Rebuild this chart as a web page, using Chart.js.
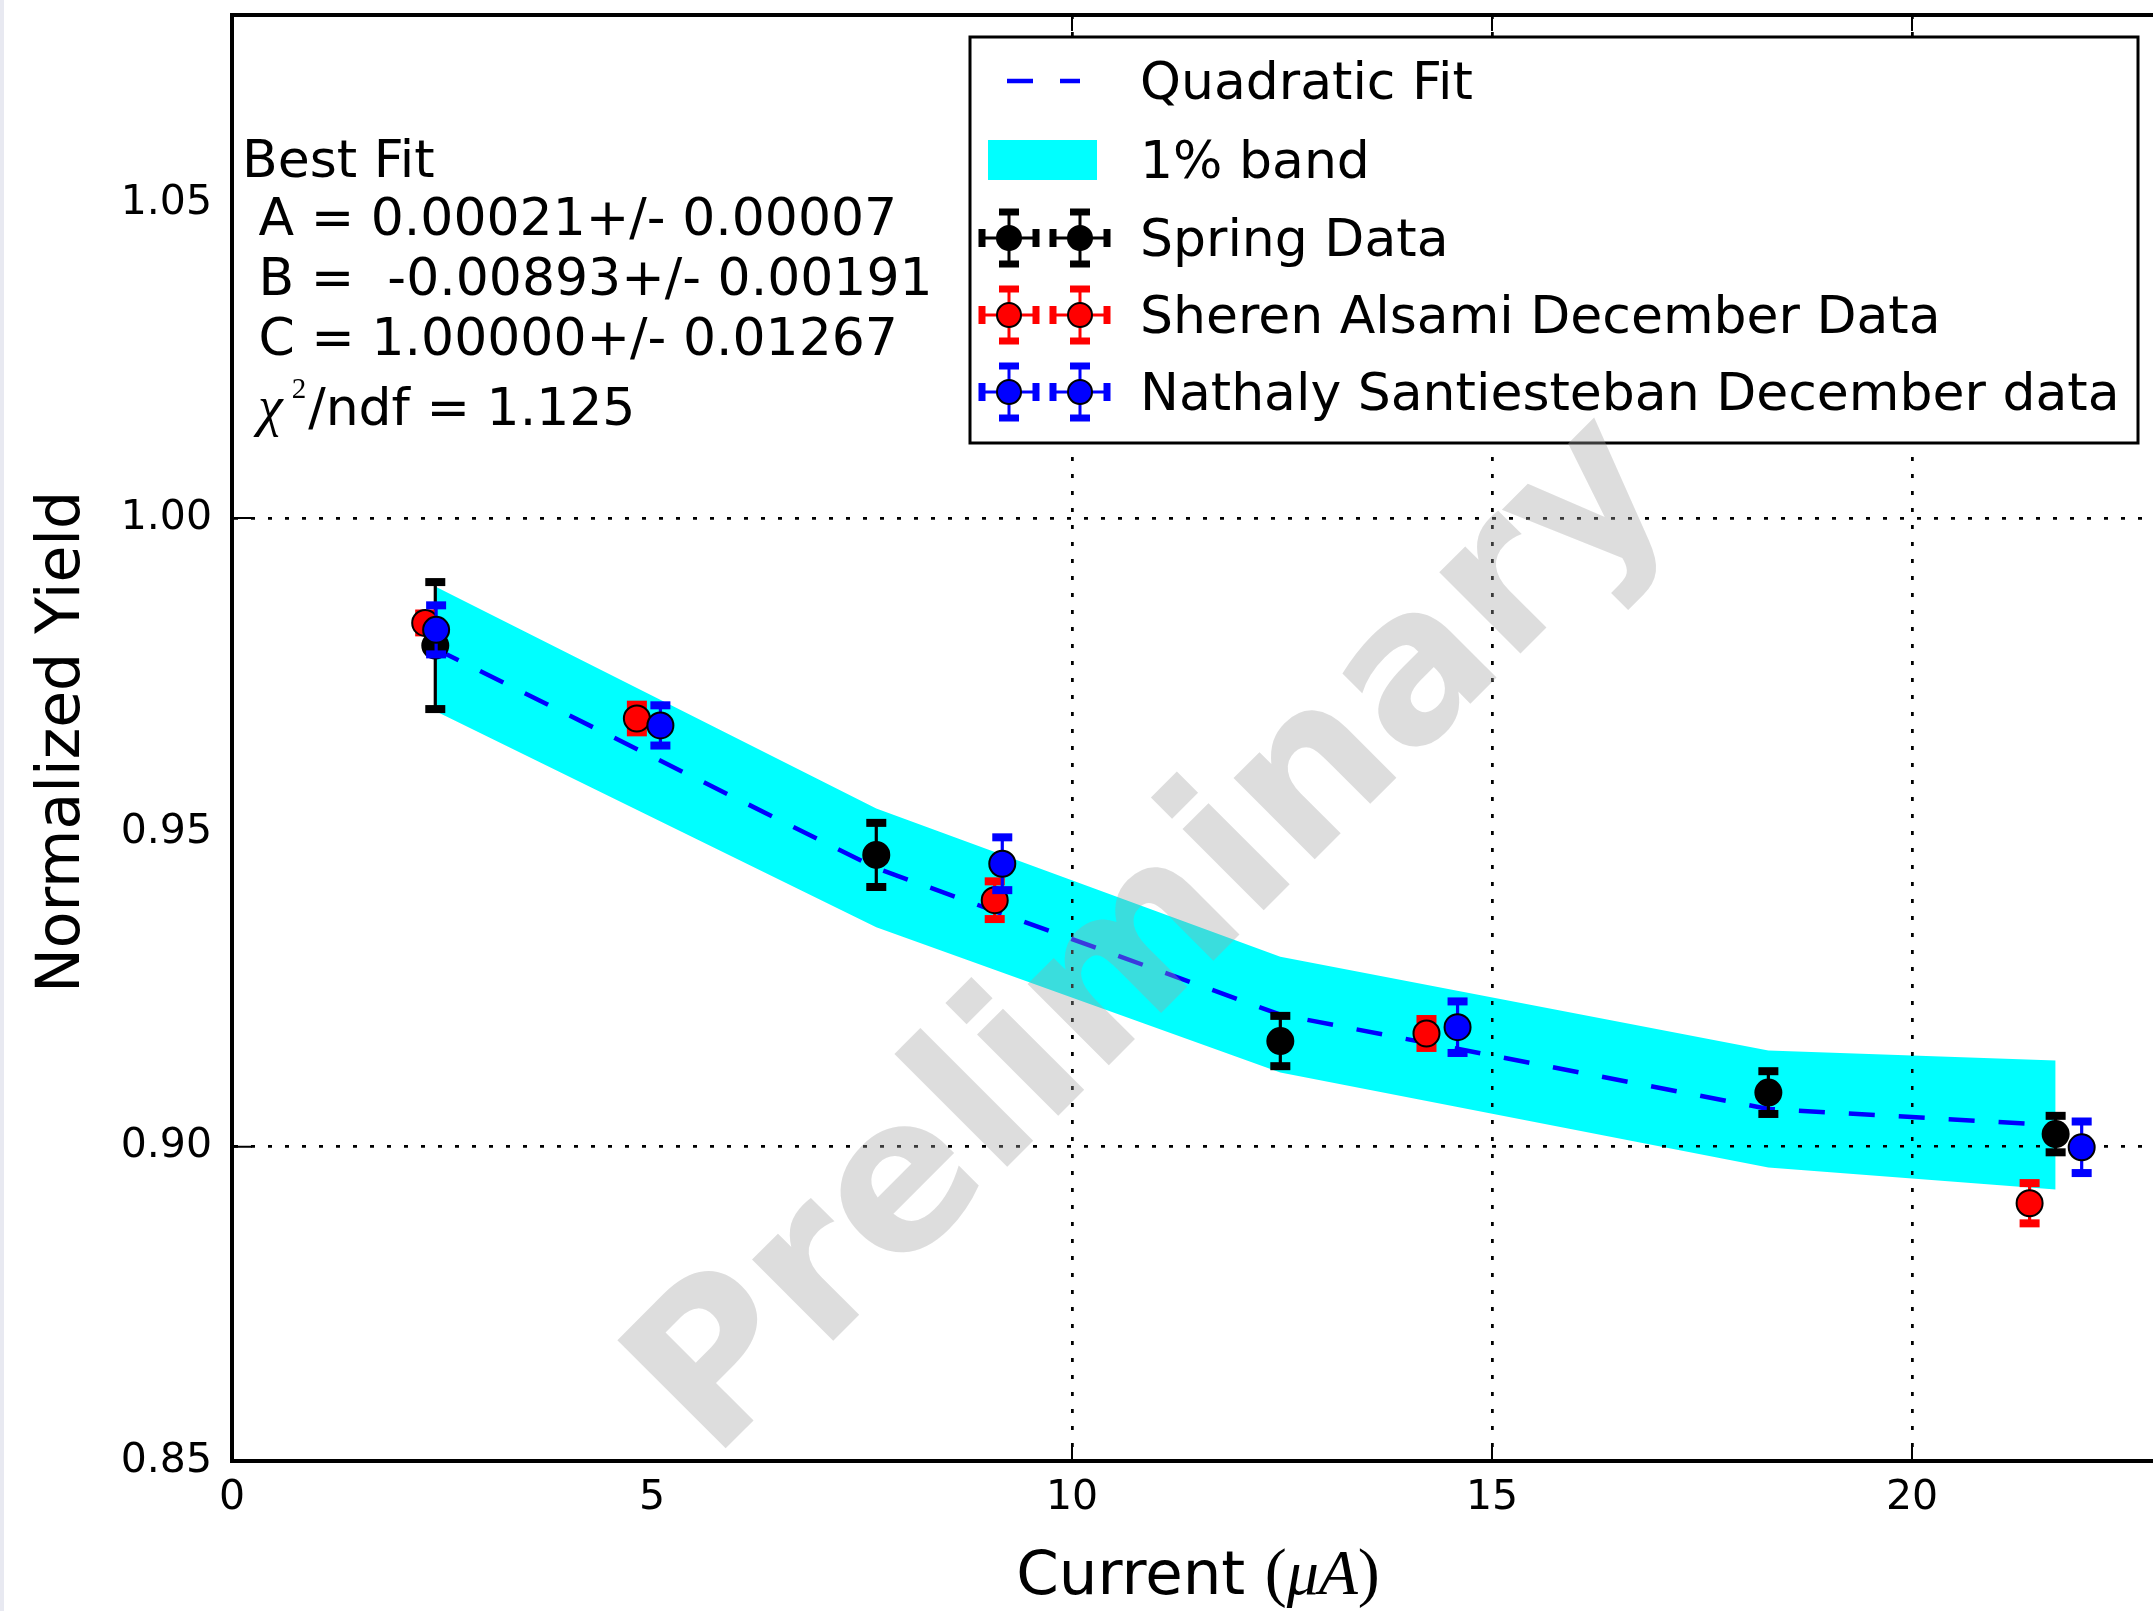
<!DOCTYPE html>
<html>
<head>
<meta charset="utf-8">
<script src="https://cdn.jsdelivr.net/npm/chart.js@4.4.1/dist/chart.umd.min.js"></script>
<style>
html, body { margin: 0; padding: 0; background: #fff; overflow: hidden; width: 2153px; height: 1611px; }
#wrap { position: relative; width: 2153px; height: 1611px; overflow: hidden; }
#edge { position: absolute; left: 0; top: 0; width: 4px; height: 1611px; background: #e8e9f1; }
canvas { position: absolute; left: 0; top: 0; }
</style>
</head>
<body>
<div id="wrap"><canvas id="c" width="2200" height="1611" style="width:2200px;height:1611px"></canvas><div id="edge"></div></div>
<script>
// values
var springX = [2.42, 7.67, 12.48, 18.29, 21.71];
var springY = [0.9797, 0.9464, 0.9168, 0.9086, 0.9020];
var springErr = [0.0101, 0.0051, 0.0040, 0.0034, 0.0029];

var sherenX = [2.30, 4.82, 9.08, 14.22, 21.40];
var sherenY = [0.9833, 0.9681, 0.9392, 0.9180, 0.8910];
var sherenErr = [0.0015, 0.0022, 0.0030, 0.0023, 0.0032];

var nathalyX = [2.43, 5.10, 9.17, 14.59, 22.02];
var nathalyY = [0.9822, 0.9670, 0.9450, 0.9190, 0.8999];
var nathalyErr = [0.0039, 0.0032, 0.0042, 0.0041, 0.0041];

// quadratic fit and 1% band, at the spring currents
var fitX = [2.42, 7.67, 12.48, 18.29, 21.71];
var fitY = [0.9792, 0.9443, 0.9210, 0.9060, 0.9034];
var bandHigh = [0.9891, 0.9538, 0.9302, 0.9153, 0.9137];
var bandLow = [0.9693, 0.9349, 0.9118, 0.8967, 0.8932];

var xTicks = [0, 5, 10, 15, 20];
var yTicks = [0.85, 0.90, 0.95, 1.00, 1.05];
var xGrid = [10, 15, 20];
var yGrid = [0.90, 1.00];

var legendLabels = ['Quadratic Fit', '1% band', 'Spring Data', 'Sheren Alsami December Data', 'Nathaly Santiesteban December data'];
var fitText = [' A = 0.00021+/- 0.00007', ' B =  -0.00893+/- 0.00191', ' C = 1.00000+/- 0.01267'];

var FONT = '"DejaVu Sans", "Noto Sans", sans-serif';

function pts(xs, ys) {
    return xs.map(function (x, i) { return {x: x, y: ys[i]}; });
}

function onGrid(list, v) {
    return list.some(function (g) { return Math.abs(g - v) < 1e-6; });
}

function errMarker(ctx, cx, cy, color) {
    ctx.strokeStyle = color;
    ctx.fillStyle = color;
    ctx.lineWidth = 3;
    ctx.beginPath();
    ctx.moveTo(cx, cy - 26); ctx.lineTo(cx, cy + 26);
    ctx.moveTo(cx - 27, cy); ctx.lineTo(cx + 27, cy);
    ctx.stroke();
    ctx.fillRect(cx - 10, cy - 29.5, 20, 7);
    ctx.fillRect(cx - 10, cy + 22.5, 20, 7);
    ctx.fillRect(cx - 30.5, cy - 9, 7, 18);
    ctx.fillRect(cx + 23.5, cy - 9, 7, 18);
    ctx.beginPath();
    ctx.arc(cx, cy, 12, 0, 2 * Math.PI);
    ctx.fill();
    ctx.lineWidth = 2;
    ctx.strokeStyle = '#000';
    ctx.stroke();
}

var decor = {
    id: 'decor',
    beforeDatasetDraw: function (chart, args) {
        var ds = chart.data.datasets[args.index];
        if (!ds.yErr) return;
        var ctx = chart.ctx, xs = chart.scales.x, ys = chart.scales.y;
        ctx.save();
        ctx.strokeStyle = ds.pointBackgroundColor;
        ctx.fillStyle = ds.pointBackgroundColor;
        ctx.lineWidth = 3.2;
        ds.data.forEach(function (p, i) {
            var px = xs.getPixelForValue(p.x);
            var top = ys.getPixelForValue(p.y + ds.yErr[i]);
            var bot = ys.getPixelForValue(p.y - ds.yErr[i]);
            ctx.beginPath();
            ctx.moveTo(px, top); ctx.lineTo(px, bot);
            ctx.stroke();
            ctx.fillRect(px - 10, top - 4, 20, 8);
            ctx.fillRect(px - 10, bot - 4, 20, 8);
        });
        ctx.restore();
    },
    afterDatasetDraw: function (chart, args) {
        // grid goes above the band, below the fit and data
        if (args.index === 1) {
            chart.scales.x.drawGrid(chart.chartArea);
            chart.scales.y.drawGrid(chart.chartArea);
        }
    },
    afterDraw: function (chart) {
        var ctx = chart.ctx, a = chart.chartArea;
        var xs = chart.scales.x, ys = chart.scales.y;
        ctx.save();

        // top frame and inward tick marks
        ctx.strokeStyle = '#000';
        ctx.lineWidth = 4;
        ctx.beginPath();
        ctx.moveTo(a.left - 2, a.top); ctx.lineTo(a.right, a.top);
        ctx.stroke();
        ctx.lineWidth = 2;
        ctx.beginPath();
        xGrid.forEach(function (v) {
            var px = xs.getPixelForValue(v);
            ctx.moveTo(px, a.bottom); ctx.lineTo(px, a.bottom - 16);
            ctx.moveTo(px, a.top); ctx.lineTo(px, a.top + 16);
        });
        yGrid.forEach(function (v) {
            var py = ys.getPixelForValue(v);
            ctx.moveTo(a.left, py); ctx.lineTo(a.left + 20, py);
        });
        ctx.stroke();

        // axis titles
        ctx.fillStyle = '#000';
        ctx.textBaseline = 'alphabetic';
        ctx.save();
        ctx.translate(79, (a.top + a.bottom) / 2 + 4);
        ctx.rotate(-Math.PI / 2);
        ctx.textAlign = 'center';
        ctx.font = '60px ' + FONT;
        ctx.fillText('Normalized Yield', 0, 0);
        ctx.restore();

        var parts = [
            ['Current ', '61px ' + FONT],
            ['(', '66px "Liberation Serif"'],
            ['\u03bcA', 'italic 64px "Liberation Serif"'],
            [')', '66px "Liberation Serif"']
        ];
        var total = 0;
        parts.forEach(function (p) { ctx.font = p[1]; p.push(ctx.measureText(p[0]).width); total += p[2]; });
        var tx = (a.left + a.right) / 2 - total / 2;
        ctx.textAlign = 'left';
        parts.forEach(function (p) { ctx.font = p[1]; ctx.fillText(p[0], tx, 1594); tx += p[2]; });

        // best fit text
        ctx.font = '52px ' + FONT;
        ctx.fillText('Best Fit', 242, 177);
        fitText.forEach(function (t, i) { ctx.fillText(t, 242, 235 + i * 60); });
        var cx = 258;
        ctx.font = 'italic 56px "Liberation Serif"';
        ctx.fillText('\u03c7', cx, 425);
        cx += ctx.measureText('\u03c7').width + 9;
        ctx.font = '29px "Liberation Serif"';
        ctx.fillText('2', cx, 398);
        cx += ctx.measureText('2').width + 2;
        ctx.font = '52px ' + FONT;
        ctx.fillText('/ndf = 1.125', cx, 425);

        // legend
        var lx = 970, ly = 37, lw = 1168, lh = 406;
        ctx.fillStyle = '#fff';
        ctx.fillRect(lx, ly, lw, lh);
        ctx.strokeStyle = '#000';
        ctx.lineWidth = 3;
        ctx.strokeRect(lx, ly, lw, lh);
        var rows = [81, 160, 238, 315, 392];
        ctx.strokeStyle = '#0000ff';
        ctx.lineWidth = 4.5;
        ctx.beginPath();
        ctx.moveTo(1007, rows[0]); ctx.lineTo(1033, rows[0]);
        ctx.moveTo(1060, rows[0]); ctx.lineTo(1080, rows[0]);
        ctx.stroke();
        ctx.fillStyle = '#00ffff';
        ctx.fillRect(988, 140, 109, 40);
        var cols = ['#000000', '#ff0000', '#0000ff'];
        for (var k = 0; k < 3; k++) {
            errMarker(ctx, 1009, rows[k + 2], cols[k]);
            errMarker(ctx, 1080, rows[k + 2], cols[k]);
        }
        ctx.fillStyle = '#000';
        ctx.font = '52px ' + FONT;
        legendLabels.forEach(function (t, i) { ctx.fillText(t, 1140, rows[i] + 18); });

        // watermark
        ctx.save();
        ctx.translate(712, 1462);
        ctx.rotate(-Math.PI / 4);
        ctx.font = 'bold 210px ' + FONT;
        ctx.fillStyle = 'rgba(160,160,160,0.36)';
        ctx.textAlign = 'left';
        ctx.fillText('Preliminary', 0, 0);
        ctx.restore();

        ctx.restore();
    }
};

var ctx = document.getElementById('c').getContext('2d');
new Chart(ctx, {
    type: 'line',
    data: {
        datasets: [
            {label: '1% band', data: pts(fitX, bandHigh), fill: '+1', backgroundColor: '#00ffff',
             borderWidth: 0, pointRadius: 0, tension: 0, order: 10},
            {label: 'band low', data: pts(fitX, bandLow), fill: false, borderWidth: 0,
             pointRadius: 0, tension: 0, order: 9},
            {label: 'Quadratic Fit', data: pts(fitX, fitY), borderColor: '#0000ff', borderWidth: 4.5,
             borderDash: [26, 24], pointRadius: 0, fill: false, tension: 0, order: 5},
            {label: 'Spring Data', data: pts(springX, springY), yErr: springErr, showLine: false,
             pointRadius: 13, pointBackgroundColor: '#000000', pointBorderColor: '#000', pointBorderWidth: 2, order: 3},
            {label: 'Sheren Alsami December Data', data: pts(sherenX, sherenY), yErr: sherenErr, showLine: false,
             pointRadius: 13, pointBackgroundColor: '#ff0000', pointBorderColor: '#000', pointBorderWidth: 2, order: 2},
            {label: 'Nathaly Santiesteban December data', data: pts(nathalyX, nathalyY), yErr: nathalyErr, showLine: false,
             pointRadius: 13, pointBackgroundColor: '#0000ff', pointBorderColor: '#000', pointBorderWidth: 2, order: 1}
        ]
    },
    options: {
        responsive: false,
        animation: false,
        layout: {padding: {left: 0, top: 13, right: 36, bottom: 0}},
        plugins: {legend: {display: false}, tooltip: {enabled: false}},
        scales: {
            x: {
                type: 'linear', min: 0, max: 23,
                afterBuildTicks: function (axis) { axis.ticks = xTicks.map(function (v) { return {value: v}; }); },
                afterFit: function (s) { s.height = 150; s.paddingLeft = s.paddingRight = s.paddingTop = s.paddingBottom = 0; },
                ticks: {color: '#000', font: {family: FONT, size: 41}, padding: 13, maxRotation: 0,
                        callback: function (v) { return String(v); }},
                grid: {drawTicks: false, lineWidth: 2.5,
                       color: function (c) { return c.tick && onGrid(xGrid, c.tick.value) ? '#000' : 'rgba(0,0,0,0)'; }},
                border: {display: true, color: '#000', width: 4, dash: [4, 13]}
            },
            y: {
                type: 'linear', min: 0.85, max: 1.08,
                afterBuildTicks: function (axis) { axis.ticks = yTicks.map(function (v) { return {value: v}; }); },
                afterFit: function (s) { s.width = 232; s.paddingLeft = s.paddingRight = s.paddingTop = s.paddingBottom = 0; },
                ticks: {color: '#000', font: {family: FONT, size: 41}, padding: 20,
                        callback: function (v) { return v.toFixed(2); }},
                grid: {drawTicks: false, lineWidth: 2.5,
                       color: function (c) { return c.tick && onGrid(yGrid, c.tick.value) ? '#000' : 'rgba(0,0,0,0)'; }},
                border: {display: true, color: '#000', width: 4, dash: [4, 13]}
            }
        }
    },
    plugins: [decor]
});
</script>
</body>
</html>
